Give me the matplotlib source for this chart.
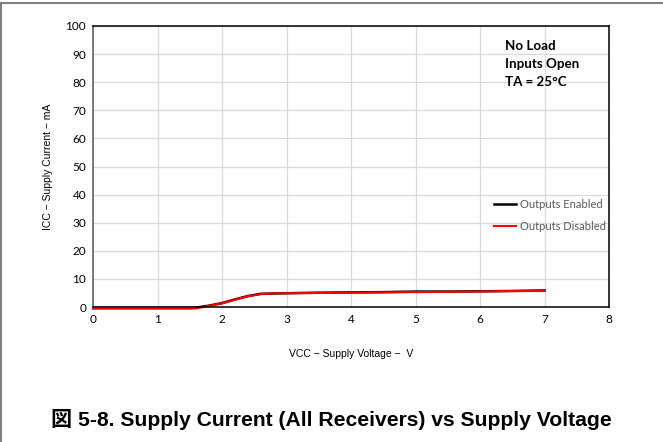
import matplotlib
matplotlib.use('Agg')
import matplotlib.pyplot as plt
from matplotlib.lines import Line2D

# supply voltage (V) and supply current (mA)
vcc = [0, 0.5, 1.0, 1.5, 1.6, 1.8, 2.0, 2.2, 2.4, 2.6, 2.8, 3.0, 3.5, 4.0, 4.5, 5.0, 5.5, 6.0, 6.5, 7.0]
icc_enabled = [-0.3, -0.3, -0.3, -0.3, -0.2, 0.5, 1.4, 2.7, 3.9, 4.7, 4.8, 4.9, 5.1, 5.2, 5.3, 5.5, 5.5, 5.6, 5.7, 5.9]
icc_disabled = [-0.6, -0.6, -0.6, -0.6, -0.5, 0.4, 1.3, 2.6, 3.8, 4.6, 4.8, 4.9, 5.0, 5.1, 5.2, 5.3, 5.4, 5.5, 5.7, 5.8]

xticks = [0, 1, 2, 3, 4, 5, 6, 7, 8]
yticks = [0, 10, 20, 30, 40, 50, 60, 70, 80, 90, 100]

fig = plt.figure(figsize=(6.63, 4.42), dpi=100)
ax = fig.add_axes([0.1403, 0.3054, 0.7783, 0.6358])

ax.plot(vcc, icc_enabled, color='black', lw=1.8, label='Outputs Enabled')
ax.plot(vcc, icc_disabled, color='#ff0000', lw=1.5, label='Outputs Disabled', clip_on=False)

ax.set_xlim(0, 8)
ax.set_ylim(0, 100)
ax.set_xticks(xticks)
ax.set_yticks(yticks)
ax.grid(True, color='#d9d9d9', lw=0.9)
ax.set_axisbelow(True)
ax.tick_params(length=0, labelsize=8.5, pad=5, colors='#000000')
for lab in ax.get_xticklabels() + ax.get_yticklabels():
    lab.set_family('Lato')
for s in ax.spines.values():
    s.set_color('black')
    s.set_linewidth(1.1)
ax.spines['left'].set_color('#595959')

ax.set_ylabel('ICC − Supply Current − mA', family='Liberation Sans', fontsize=7.5, labelpad=9)
ax.set_xlabel('VCC − Supply Voltage −  V', family='Liberation Sans', fontsize=7.5, labelpad=17)

ax.text(0.798, 0.951, 'No Load\nInputs Open\nTA = 25°C', transform=ax.transAxes,
        family='Lato', fontweight='bold', fontsize=9.6, va='top', ha='left', linespacing=1.62)

leg = ax.legend(loc='center left', bbox_to_anchor=(0.777, 0.325), frameon=False,
                fontsize=8, handlelength=2.0, handletextpad=0.3, labelspacing=1.0,
                borderpad=0, borderaxespad=0)
for t in leg.get_texts():
    t.set_color('#595959')
    t.set_family('Lato')

fig.text(0.5, 0.05, '図 5-8. Supply Current (All Receivers) vs Supply Voltage',
         family=['Liberation Sans', 'Noto Sans CJK JP'], fontweight='bold', fontsize=15.2,
         ha='center', va='center')

# page frame lines (top and left)
fig.add_artist(Line2D([0, 1], [0.993, 0.993], color='#7f7f7f', lw=1.5, transform=fig.transFigure))
fig.add_artist(Line2D([0.002, 0.002], [0, 0.993], color='#7f7f7f', lw=1.5, transform=fig.transFigure))

fig.savefig('out.png', dpi=100)
